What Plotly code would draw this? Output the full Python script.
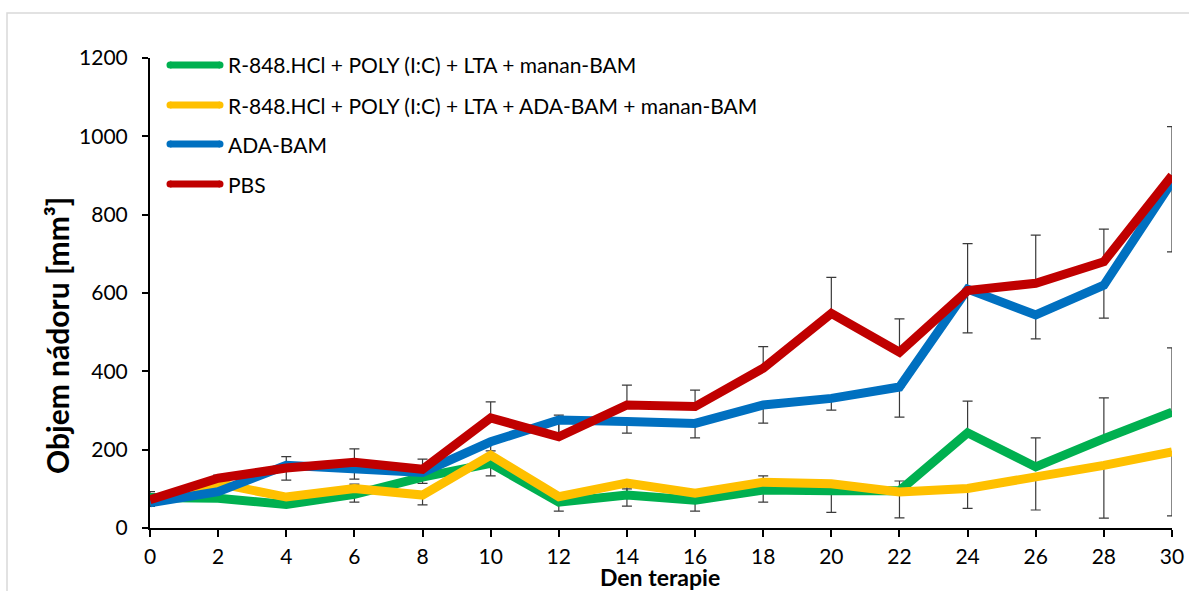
import plotly.graph_objects as go

# Days of therapy
days = [0, 2, 4, 6, 8, 10, 12, 14, 16, 18, 20, 22, 24, 26, 28, 30]

# Tumour volume means [mm3]
green_vals = [78, 76, 60, 86, 130, 165, 66, 84, 71, 97, 95, 95, 243, 156, 228, 296]
yellow_vals = [66, 114, 79, 101, 84, 186, 80, 115, 89, 117, 113, 92, 101, 130, 160, 194]
blue_vals = [64, 93, 160, 150, 142, 220, 276, 272, 267, 314, 331, 360, 610, 544, 620, 884]
red_vals = [72, 127, 153, 168, 150, 281, 233, 314, 310, 408, 548, 449, 606, 625, 680, 900]

# Error bars (upper for green/red, lower for yellow/blue)
green_err = [10, 8, 10, 26, 10, 15, 10, 16, 12, 36, 14, 25, 81, 74, 104, 164]
yellow_err = [11, 10, 25, 35, 25, 53, 37, 59, 46, 51, 73, 66, 51, 84, 135, 163]
blue_err = [8, 10, 38, 25, 28, 23, 34, 30, 37, 46, 30, 77, 112, 61, 84, 179]
red_err = [21, 8, 29, 34, 26, 41, 55, 51, 42, 55, 92, 85, 120, 123, 83, 125]

names = [
    "R-848.HCl + POLY (I:C) + LTA + manan-BAM",
    "R-848.HCl + POLY (I:C) + LTA + ADA-BAM + manan-BAM",
    "ADA-BAM",
    "PBS",
]
colors = ["#00B050", "#FFC000", "#0070C0", "#C00000"]

y_ticks = [0, 200, 400, 600, 800, 1000, 1200]
x_ticks = days

FONT = "Lato, 'Open Sans', sans-serif"

series = [
    (green_vals, green_err, True),
    (yellow_vals, yellow_err, False),
    (blue_vals, blue_err, False),
    (red_vals, red_err, True),
]

fig = go.Figure()

# error bars first so the thick lines sit on top of them
for vals, err, upper in series:
    zeros = [0] * len(err)
    fig.add_trace(go.Scatter(
        x=days, y=vals, mode="markers",
        marker=dict(size=1, opacity=0),
        error_y=dict(type="data", symmetric=False,
                     array=err if upper else zeros,
                     arrayminus=zeros if upper else err,
                     color="#3a3a3a", thickness=1.2, width=5),
        showlegend=False, hoverinfo="skip",
    ))

for (vals, err, upper), name, col in zip(series, names, colors):
    fig.add_trace(go.Scatter(
        x=days, y=vals, mode="lines", name=name,
        line=dict(color=col, width=9),
        showlegend=False,
    ))

# plot-area geometry in pixels
L, R, T, B = 150, 1172, 58, 528
W, H = R - L, B - T


def px_x(p):
    return (p - L) / W


def px_y(p):
    return (B - p) / H


shapes = []
annotations = []

# outer light frame (runs off the right and bottom edges)
shapes.append(dict(type="rect", xref="paper", yref="paper",
                   x0=px_x(7), x1=px_x(1210), y0=px_y(610), y1=px_y(13),
                   line=dict(color="#d9d9d9", width=1.5), layer="below"))

# legend entries
rows = [65, 105, 144, 184]
for name, col, ry in zip(names, colors, rows):
    shapes.append(dict(type="line", xref="paper", yref="paper",
                       x0=px_x(170), x1=px_x(220), y0=px_y(ry), y1=px_y(ry),
                       line=dict(color=col, width=7)))
    for cx in (170, 220):
        shapes.append(dict(type="circle", xref="paper", yref="paper",
                           x0=px_x(cx - 3.5), x1=px_x(cx + 3.5),
                           y0=px_y(ry + 3.5), y1=px_y(ry - 3.5),
                           fillcolor=col, line=dict(width=0)))
    annotations.append(dict(text=name, xref="paper", yref="paper",
                            x=px_x(226), y=px_y(ry), xanchor="left",
                            yanchor="middle", showarrow=False,
                            font=dict(family=FONT, size=21, color="#000")))

# axis titles
annotations.append(dict(text="<b>Objem nádoru [mm³]</b>", xref="paper", yref="paper",
                        x=px_x(57), y=px_y(336), textangle=-90,
                        xanchor="center", yanchor="middle", showarrow=False,
                        font=dict(family=FONT, size=30, color="#000")))
annotations.append(dict(text="<b>Den terapie</b>", xref="paper", yref="paper",
                        x=px_x(660), y=px_y(577), xanchor="center",
                        yanchor="middle", showarrow=False,
                        font=dict(family=FONT, size=23, color="#000")))

fig.update_layout(
    width=1189, height=591,
    margin=dict(l=L, r=1189 - R, t=T, b=591 - B),
    paper_bgcolor="white", plot_bgcolor="white",
    font=dict(family=FONT, size=21, color="#000"),
    shapes=shapes, annotations=annotations,
    showlegend=False,
)
fig.update_xaxes(range=[0, 30], tickvals=x_ticks, ticktext=[str(t) for t in x_ticks],
                 showgrid=False, zeroline=False, showline=True,
                 linecolor="#000", linewidth=2, ticks="outside",
                 ticklen=7, tickwidth=2, tickcolor="#000", ticklabelstandoff=2,
                 tickfont=dict(family=FONT, size=21), automargin=False,
                 ticklabeloverflow="allow")
fig.update_yaxes(range=[0, 1200], tickvals=y_ticks, ticktext=[str(t) for t in y_ticks],
                 showgrid=False, zeroline=False, showline=True,
                 linecolor="#000", linewidth=2, ticks="outside",
                 ticklen=6, tickwidth=2, tickcolor="#000", ticklabelstandoff=10,
                 tickfont=dict(family=FONT, size=21), automargin=False)

fig.write_html("out.html")
